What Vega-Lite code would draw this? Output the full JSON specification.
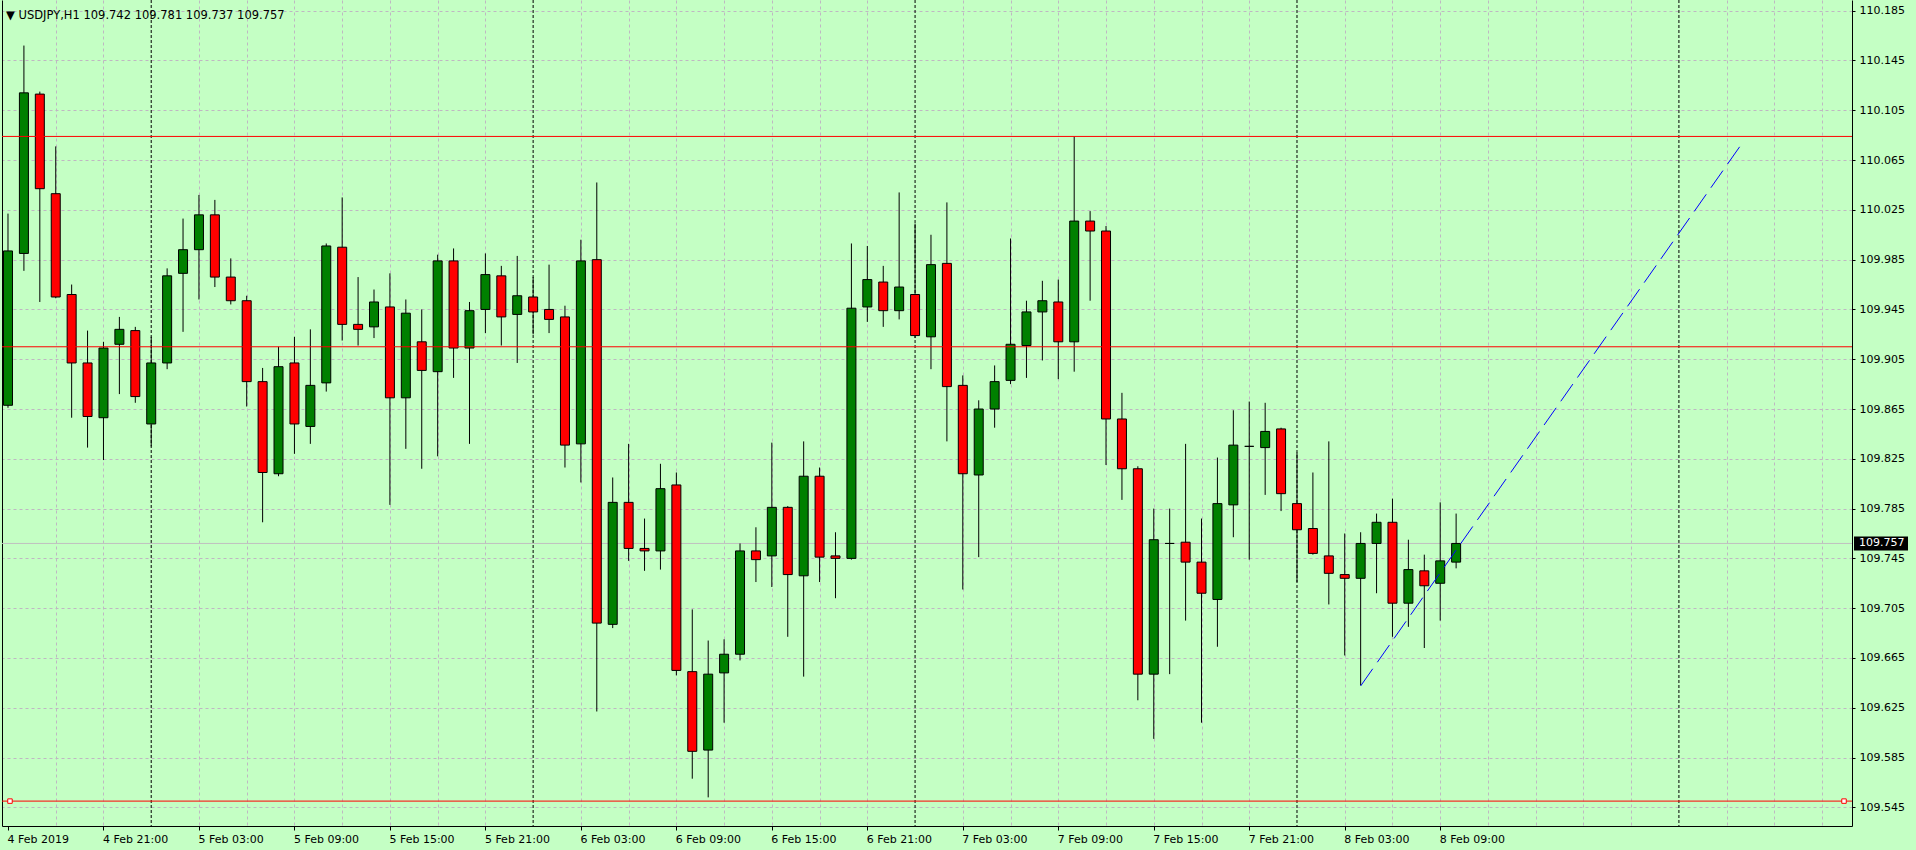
{
  "$schema": "https://vega.github.io/schema/vega-lite/v6.json",
  "width": 1850,
  "height": 826,
  "autosize": "none",
  "padding": {"left": 2, "top": 0, "right": 64, "bottom": 24},
  "background": "#c4ffc4",
  "config": {"view": {"stroke": null}, "font": "DejaVu Sans"},
  "title": {"text": "▼ USDJPY,H1  109.742 109.781 109.737 109.757", "anchor": "start", "frame": "group", "orient": "top", "offset": -31, "baseline": "alphabetic", "font": "DejaVu Sans", "fontSize": 11.5, "fontWeight": "normal", "color": "black", "dx": 4},
  "datasets": {
    "candles": [
      {"t":"2019-02-04T15:00:00Z","o":109.868,"h":110.022,"l":109.866,"c":109.992},
      {"t":"2019-02-04T16:00:00Z","o":109.990,"h":110.157,"l":109.976,"c":110.119},
      {"t":"2019-02-04T17:00:00Z","o":110.118,"h":110.120,"l":109.951,"c":110.042},
      {"t":"2019-02-04T18:00:00Z","o":110.038,"h":110.076,"l":109.954,"c":109.955},
      {"t":"2019-02-04T19:00:00Z","o":109.957,"h":109.965,"l":109.858,"c":109.902},
      {"t":"2019-02-04T20:00:00Z","o":109.902,"h":109.928,"l":109.834,"c":109.859},
      {"t":"2019-02-04T21:00:00Z","o":109.858,"h":109.919,"l":109.824,"c":109.914},
      {"t":"2019-02-04T22:00:00Z","o":109.917,"h":109.939,"l":109.877,"c":109.929},
      {"t":"2019-02-04T23:00:00Z","o":109.928,"h":109.931,"l":109.870,"c":109.875},
      {"t":"2019-02-05T00:00:00Z","o":109.853,"h":109.923,"l":109.835,"c":109.902},
      {"t":"2019-02-05T01:00:00Z","o":109.902,"h":109.978,"l":109.897,"c":109.972},
      {"t":"2019-02-05T02:00:00Z","o":109.974,"h":110.018,"l":109.927,"c":109.993},
      {"t":"2019-02-05T03:00:00Z","o":109.993,"h":110.037,"l":109.953,"c":110.021},
      {"t":"2019-02-05T04:00:00Z","o":110.021,"h":110.033,"l":109.963,"c":109.971},
      {"t":"2019-02-05T05:00:00Z","o":109.971,"h":109.986,"l":109.949,"c":109.952},
      {"t":"2019-02-05T06:00:00Z","o":109.952,"h":109.956,"l":109.867,"c":109.887},
      {"t":"2019-02-05T07:00:00Z","o":109.887,"h":109.898,"l":109.774,"c":109.814},
      {"t":"2019-02-05T08:00:00Z","o":109.813,"h":109.915,"l":109.811,"c":109.899},
      {"t":"2019-02-05T09:00:00Z","o":109.902,"h":109.923,"l":109.829,"c":109.853},
      {"t":"2019-02-05T10:00:00Z","o":109.851,"h":109.929,"l":109.837,"c":109.884},
      {"t":"2019-02-05T11:00:00Z","o":109.886,"h":109.998,"l":109.879,"c":109.996},
      {"t":"2019-02-05T12:00:00Z","o":109.995,"h":110.035,"l":109.920,"c":109.933},
      {"t":"2019-02-05T13:00:00Z","o":109.933,"h":109.971,"l":109.916,"c":109.929},
      {"t":"2019-02-05T14:00:00Z","o":109.931,"h":109.961,"l":109.922,"c":109.951},
      {"t":"2019-02-05T15:00:00Z","o":109.947,"h":109.974,"l":109.788,"c":109.874},
      {"t":"2019-02-05T16:00:00Z","o":109.874,"h":109.953,"l":109.833,"c":109.942},
      {"t":"2019-02-05T17:00:00Z","o":109.919,"h":109.945,"l":109.817,"c":109.896},
      {"t":"2019-02-05T18:00:00Z","o":109.895,"h":109.989,"l":109.827,"c":109.984},
      {"t":"2019-02-05T19:00:00Z","o":109.984,"h":109.994,"l":109.890,"c":109.914},
      {"t":"2019-02-05T20:00:00Z","o":109.914,"h":109.951,"l":109.837,"c":109.944},
      {"t":"2019-02-05T21:00:00Z","o":109.945,"h":109.990,"l":109.926,"c":109.973},
      {"t":"2019-02-05T22:00:00Z","o":109.972,"h":109.980,"l":109.916,"c":109.939},
      {"t":"2019-02-05T23:00:00Z","o":109.941,"h":109.988,"l":109.902,"c":109.956},
      {"t":"2019-02-06T00:00:00Z","o":109.955,"h":109.971,"l":109.925,"c":109.943},
      {"t":"2019-02-06T01:00:00Z","o":109.945,"h":109.981,"l":109.926,"c":109.937},
      {"t":"2019-02-06T02:00:00Z","o":109.939,"h":109.948,"l":109.818,"c":109.836},
      {"t":"2019-02-06T03:00:00Z","o":109.837,"h":110.001,"l":109.806,"c":109.984},
      {"t":"2019-02-06T04:00:00Z","o":109.985,"h":110.047,"l":109.622,"c":109.693},
      {"t":"2019-02-06T05:00:00Z","o":109.692,"h":109.810,"l":109.689,"c":109.790},
      {"t":"2019-02-06T06:00:00Z","o":109.790,"h":109.837,"l":109.743,"c":109.753},
      {"t":"2019-02-06T07:00:00Z","o":109.753,"h":109.777,"l":109.735,"c":109.751},
      {"t":"2019-02-06T08:00:00Z","o":109.751,"h":109.821,"l":109.736,"c":109.801},
      {"t":"2019-02-06T09:00:00Z","o":109.804,"h":109.814,"l":109.651,"c":109.655},
      {"t":"2019-02-06T10:00:00Z","o":109.654,"h":109.704,"l":109.568,"c":109.590},
      {"t":"2019-02-06T11:00:00Z","o":109.591,"h":109.679,"l":109.553,"c":109.652},
      {"t":"2019-02-06T12:00:00Z","o":109.653,"h":109.680,"l":109.613,"c":109.668},
      {"t":"2019-02-06T13:00:00Z","o":109.668,"h":109.757,"l":109.663,"c":109.751},
      {"t":"2019-02-06T14:00:00Z","o":109.751,"h":109.770,"l":109.726,"c":109.744},
      {"t":"2019-02-06T15:00:00Z","o":109.747,"h":109.838,"l":109.722,"c":109.786},
      {"t":"2019-02-06T16:00:00Z","o":109.786,"h":109.787,"l":109.682,"c":109.732},
      {"t":"2019-02-06T17:00:00Z","o":109.731,"h":109.839,"l":109.650,"c":109.811},
      {"t":"2019-02-06T18:00:00Z","o":109.811,"h":109.818,"l":109.726,"c":109.746},
      {"t":"2019-02-06T19:00:00Z","o":109.747,"h":109.766,"l":109.713,"c":109.745},
      {"t":"2019-02-06T20:00:00Z","o":109.745,"h":109.998,"l":109.744,"c":109.946},
      {"t":"2019-02-06T21:00:00Z","o":109.947,"h":109.996,"l":109.935,"c":109.969},
      {"t":"2019-02-06T22:00:00Z","o":109.967,"h":109.980,"l":109.931,"c":109.944},
      {"t":"2019-02-06T23:00:00Z","o":109.944,"h":110.039,"l":109.937,"c":109.963},
      {"t":"2019-02-07T00:00:00Z","o":109.957,"h":110.014,"l":109.922,"c":109.924},
      {"t":"2019-02-07T01:00:00Z","o":109.923,"h":110.005,"l":109.897,"c":109.981},
      {"t":"2019-02-07T02:00:00Z","o":109.982,"h":110.031,"l":109.839,"c":109.883},
      {"t":"2019-02-07T03:00:00Z","o":109.884,"h":109.892,"l":109.720,"c":109.813},
      {"t":"2019-02-07T04:00:00Z","o":109.812,"h":109.872,"l":109.746,"c":109.865},
      {"t":"2019-02-07T05:00:00Z","o":109.865,"h":109.900,"l":109.850,"c":109.887},
      {"t":"2019-02-07T06:00:00Z","o":109.888,"h":110.002,"l":109.885,"c":109.917},
      {"t":"2019-02-07T07:00:00Z","o":109.916,"h":109.952,"l":109.890,"c":109.943},
      {"t":"2019-02-07T08:00:00Z","o":109.943,"h":109.968,"l":109.904,"c":109.952},
      {"t":"2019-02-07T09:00:00Z","o":109.951,"h":109.969,"l":109.889,"c":109.919},
      {"t":"2019-02-07T10:00:00Z","o":109.919,"h":110.084,"l":109.895,"c":110.016},
      {"t":"2019-02-07T11:00:00Z","o":110.016,"h":110.024,"l":109.952,"c":110.008},
      {"t":"2019-02-07T12:00:00Z","o":110.008,"h":110.012,"l":109.820,"c":109.857},
      {"t":"2019-02-07T13:00:00Z","o":109.857,"h":109.878,"l":109.792,"c":109.817},
      {"t":"2019-02-07T14:00:00Z","o":109.817,"h":109.819,"l":109.631,"c":109.652},
      {"t":"2019-02-07T15:00:00Z","o":109.652,"h":109.785,"l":109.600,"c":109.760},
      {"t":"2019-02-07T16:00:00Z","o":109.757,"h":109.785,"l":109.652,"c":109.757},
      {"t":"2019-02-07T17:00:00Z","o":109.758,"h":109.837,"l":109.695,"c":109.742},
      {"t":"2019-02-07T18:00:00Z","o":109.742,"h":109.777,"l":109.613,"c":109.717},
      {"t":"2019-02-07T19:00:00Z","o":109.712,"h":109.826,"l":109.674,"c":109.789},
      {"t":"2019-02-07T20:00:00Z","o":109.788,"h":109.864,"l":109.762,"c":109.836},
      {"t":"2019-02-07T21:00:00Z","o":109.835,"h":109.871,"l":109.744,"c":109.835},
      {"t":"2019-02-07T22:00:00Z","o":109.834,"h":109.870,"l":109.796,"c":109.847},
      {"t":"2019-02-07T23:00:00Z","o":109.849,"h":109.850,"l":109.783,"c":109.797},
      {"t":"2019-02-08T00:00:00Z","o":109.789,"h":109.830,"l":109.726,"c":109.768},
      {"t":"2019-02-08T01:00:00Z","o":109.769,"h":109.814,"l":109.748,"c":109.749},
      {"t":"2019-02-08T02:00:00Z","o":109.747,"h":109.839,"l":109.708,"c":109.733},
      {"t":"2019-02-08T03:00:00Z","o":109.732,"h":109.765,"l":109.667,"c":109.729},
      {"t":"2019-02-08T04:00:00Z","o":109.729,"h":109.766,"l":109.643,"c":109.757},
      {"t":"2019-02-08T05:00:00Z","o":109.757,"h":109.781,"l":109.717,"c":109.774},
      {"t":"2019-02-08T06:00:00Z","o":109.774,"h":109.793,"l":109.682,"c":109.709},
      {"t":"2019-02-08T07:00:00Z","o":109.709,"h":109.760,"l":109.690,"c":109.736},
      {"t":"2019-02-08T08:00:00Z","o":109.735,"h":109.748,"l":109.673,"c":109.723},
      {"t":"2019-02-08T09:00:00Z","o":109.725,"h":109.790,"l":109.695,"c":109.743},
      {"t":"2019-02-08T10:00:00Z","o":109.742,"h":109.781,"l":109.737,"c":109.757}
    ],
    "levels": [{"p": 110.084}, {"p": 109.915}, {"p": 109.550}],
    "separators": [
      {"t": "2019-02-05T00:00:00Z"}, {"t": "2019-02-06T00:00:00Z"}, {"t": "2019-02-07T00:00:00Z"},
      {"t": "2019-02-08T00:00:00Z"}, {"t": "2019-02-09T00:00:00Z"}
    ],
    "trend": [{"t": "2019-02-08T04:00:00Z", "p": 109.6425}, {"t": "2019-02-09T04:00:00Z", "p": 110.079}],
    "anchors": [{"t": "2019-02-04T15:07:30Z", "p": 109.550}, {"t": "2019-02-09T10:22:30Z", "p": 109.550}],
    "bid": [{"p": 109.757, "label": "109.757"}]
  },
  "resolve": {"axis": {"x": "independent", "y": "independent"}},
  "layer": [
    {
      "data": {"name": "separators"},
      "mark": {"type": "rule", "color": "black", "strokeWidth": 1, "strokeDash": [3, 2]},
      "encoding": {
        "x": {"field": "t", "type": "temporal",
          "scale": {"type": "utc", "domain": [1549292175000, 1549708425000]},
          "axis": {"orient": "top", "grid": true, "gridColor": "#bfb7c2", "gridDash": [3, 3], "gridWidth": 1,
            "domain": false, "ticks": false, "labels": false, "title": null,
            "values": [1549303200000,1549314000000,1549335600000,1549346400000,1549357200000,1549368000000,1549378800000,1549389600000,1549400400000,1549422000000,1549432800000,1549443600000,1549454400000,1549465200000,1549476000000,1549486800000,1549508400000,1549519200000,1549530000000,1549540800000,1549551600000,1549562400000,1549573200000,1549594800000,1549605600000,1549616400000,1549627200000,1549638000000,1549648800000,1549659600000,1549681200000,1549692000000,1549702800000]}}
      }
    },
    {
      "data": {"name": "bid"},
      "mark": {"type": "rule", "color": "#c0c0c0", "strokeWidth": 1},
      "encoding": {
        "y": {"field": "p", "type": "quantitative", "scale": {"domain": [109.53, 110.1936], "nice": false, "zero": false}, "axis": null}
      }
    },
    {
      "data": {"name": "candles"},
      "mark": {"type": "rule", "color": "black", "strokeWidth": 1},
      "encoding": {
        "x": {"field": "t", "type": "temporal",
          "scale": {"type": "utc", "domain": [1549292175000, 1549708425000]},
          "axis": {"orient": "bottom", "grid": false, "domain": true, "domainColor": "black", "domainWidth": 1,
            "ticks": true, "tickColor": "black", "tickSize": 4, "tickWidth": 1,
            "labelFont": "DejaVu Sans", "labelFontSize": 11, "labelColor": "black", "labelAlign": "left", "labelBaseline": "top",
            "labelPadding": 3, "labelOffset": -1, "labelFlush": false, "labelOverlap": false, "labelBound": false, "title": null,
            "values": [1549292400000,1549314000000,1549335600000,1549357200000,1549378800000,1549400400000,1549422000000,1549443600000,1549465200000,1549486800000,1549508400000,1549530000000,1549551600000,1549573200000,1549594800000,1549616400000],
            "labelExpr": "time(datum.value) == 1549292400000 ? '4 Feb 2019' : utcFormat(datum.value, '%-d %b %H:%M')"}},
        "y": {"field": "l", "type": "quantitative", "scale": {"domain": [109.53, 110.1936], "nice": false, "zero": false},
          "axis": {"orient": "right", "grid": true, "gridColor": "#bfb7c2", "gridDash": [3, 3], "gridWidth": 1,
            "domain": true, "domainColor": "black", "domainWidth": 1, "ticks": true, "tickColor": "black", "tickSize": 3,
            "labelFont": "DejaVu Sans", "labelFontSize": 11, "labelColor": "black", "labelPadding": 4, "format": ".3f",
            "labelOverlap": false, "labelFlush": false, "title": null,
            "values": [109.545,109.585,109.625,109.665,109.705,109.745,109.785,109.825,109.865,109.905,109.945,109.985,110.025,110.065,110.105,110.145,110.185]}},
        "y2": {"field": "h"}
      }
    },
    {
      "data": {"name": "candles"},
      "mark": {"type": "bar", "size": 9, "stroke": "black", "strokeWidth": 1},
      "encoding": {
        "x": {"field": "t", "type": "temporal", "scale": {"type": "utc", "domain": [1549292175000, 1549708425000]}, "axis": null},
        "y": {"field": "o", "type": "quantitative", "scale": {"domain": [109.53, 110.1936], "nice": false, "zero": false}, "axis": null},
        "y2": {"field": "c"},
        "fill": {"condition": {"test": "datum.c >= datum.o", "value": "#008000"}, "value": "#ff0000"}
      }
    },
    {
      "data": {"name": "levels"},
      "mark": {"type": "rule", "color": "#ff0000", "strokeWidth": 1},
      "encoding": {
        "y": {"field": "p", "type": "quantitative", "scale": {"domain": [109.53, 110.1936], "nice": false, "zero": false},
          "axis": {"orient": "left", "domain": true, "domainColor": "black", "domainWidth": 1, "ticks": false, "labels": false, "grid": false, "title": null}}
      }
    },
    {
      "data": {"name": "trend"},
      "mark": {"type": "line", "color": "#0000ff", "strokeWidth": 1, "strokeDash": [21, 8]},
      "encoding": {
        "x": {"field": "t", "type": "temporal", "scale": {"type": "utc", "domain": [1549292175000, 1549708425000]}, "axis": null},
        "y": {"field": "p", "type": "quantitative", "scale": {"domain": [109.53, 110.1936], "nice": false, "zero": false}, "axis": null}
      }
    },
    {
      "data": {"name": "anchors"},
      "mark": {"type": "point", "shape": "square", "size": 20, "filled": false, "fill": "#ffffff", "fillOpacity": 1, "stroke": "#ff0000", "strokeWidth": 1, "opacity": 1},
      "encoding": {
        "x": {"field": "t", "type": "temporal", "scale": {"type": "utc", "domain": [1549292175000, 1549708425000]}, "axis": null},
        "y": {"field": "p", "type": "quantitative", "scale": {"domain": [109.53, 110.1936], "nice": false, "zero": false}, "axis": null}
      }
    },
    {
      "data": {"name": "bid"},
      "mark": {"type": "rule", "color": "black", "strokeWidth": 14, "strokeCap": "butt"},
      "encoding": {
        "x": {"value": {"expr": "width + 2"}},
        "x2": {"value": {"expr": "width + 56"}},
        "y": {"field": "p", "type": "quantitative", "scale": {"domain": [109.53, 110.1936], "nice": false, "zero": false}, "axis": null}
      }
    },
    {
      "data": {"name": "bid"},
      "mark": {"type": "text", "color": "#ffffff", "font": "DejaVu Sans", "fontSize": 11, "align": "left", "baseline": "middle"},
      "encoding": {
        "x": {"value": {"expr": "width + 7"}},
        "y": {"field": "p", "type": "quantitative", "scale": {"domain": [109.53, 110.1936], "nice": false, "zero": false}, "axis": null},
        "text": {"field": "label"}
      }
    }
  ]
}
